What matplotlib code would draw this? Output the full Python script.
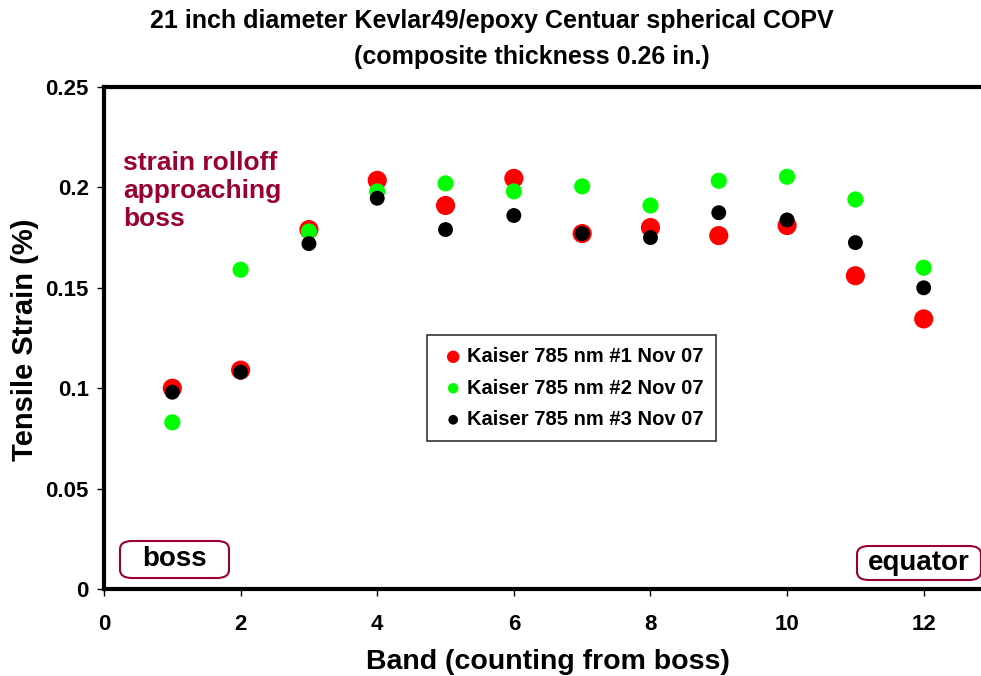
import matplotlib
matplotlib.use("Agg")
import matplotlib.pyplot as plt
from matplotlib.patches import FancyBboxPatch

plt.rcParams['font.family'] = ['Liberation Sans', 'DejaVu Sans']
plt.rcParams['font.weight'] = 'bold'

bands = [1, 2, 3, 4, 5, 6, 7, 8, 9, 10, 11, 12]
series1 = [0.100, 0.109, 0.179, 0.2035, 0.191, 0.2045, 0.177, 0.180, 0.176, 0.181, 0.156, 0.1345]
series2 = [0.083, 0.159, 0.178, 0.198, 0.202, 0.198, 0.2005, 0.191, 0.2033, 0.2053, 0.194, 0.160]
series3 = [0.098, 0.108, 0.172, 0.1946, 0.179, 0.186, 0.177, 0.175, 0.1874, 0.1838, 0.1725, 0.150]
labels = ["Kaiser 785 nm #1 Nov 07", "Kaiser 785 nm #2 Nov 07", "Kaiser 785 nm #3 Nov 07"]
colors = ["#ff0000", "#00ff00", "#000000"]
sizes = [190, 135, 115]
xticks = [0, 2, 4, 6, 8, 10, 12]
yticks = [0, 0.05, 0.1, 0.15, 0.2, 0.25]
ytick_labels = ["0", "0.05", "0.1", "0.15", "0.2", "0.25"]

fig = plt.figure(figsize=(9.81, 6.76), dpi=100)
ax = fig.add_axes([104/981, 1-589/676, (992-104)/981, (589-87)/676])

handles = []
for ys, c, s, lab in zip([series1, series2, series3], colors, sizes, labels):
    h = ax.scatter(bands, ys, s=s, c=c, edgecolors='none', label=lab, zorder=3, clip_on=False)
    handles.append(h)

ax.set_xlim(0, 13)
ax.set_ylim(0, 0.25)
ax.set_xticks(xticks)
ax.set_yticks(yticks)
ax.set_yticklabels(ytick_labels)
ax.tick_params(direction='out', length=5, width=1, labelsize=16)
ax.tick_params(axis='x', pad=13)
ax.tick_params(axis='y', pad=6)
for lab in ax.get_xticklabels() + ax.get_yticklabels():
    lab.set_fontweight('bold')
for sp in ['left', 'bottom', 'top', 'right']:
    ax.spines[sp].set_linewidth(3)

ax.set_xlabel("Band (counting from boss)", fontsize=20.5, fontweight='bold')
ax.xaxis.set_label_coords(0.5, -(662-589)/502)
ax.xaxis.label.set_va('center')
fig.text(25/981, 1-340/676, "Tensile Strain (%)", ha='center', va='center', rotation=90,
         fontsize=21, fontweight='bold')

fig.text(492/981, 1-21/676, "21 inch diameter Kevlar49/epoxy Centuar spherical COPV",
         ha='center', va='center', fontsize=18, fontweight='bold')
fig.text(532/981, 1-57/676, "(composite thickness 0.26 in.)",
         ha='center', va='center', fontsize=18, fontweight='bold')

fig.text(123/981, 1-191/676, "strain rolloff\napproaching\nboss", ha='left', va='center',
         fontsize=19, fontweight='bold', color='#990033', linespacing=1.2)

leg = ax.legend(handles=handles, loc='upper left', bbox_to_anchor=((427-104)/888, (589-335)/502),
                frameon=True, fancybox=False, edgecolor='black', fontsize=14.5,
                handletextpad=0.0, borderpad=0.6, labelspacing=0.62, markerscale=0.65,
                handlelength=1.4, borderaxespad=0)
leg.get_frame().set_linewidth(1.2)
for t in leg.get_texts():
    t.set_fontweight('bold')

for (x0, y0, x1, y1, txt) in [(120, 541, 229, 578, "boss"), (857, 546, 981, 580, "equator")]:
    box = FancyBboxPatch((x0/981, 1-y1/676), (x1-x0)/981, (y1-y0)/676,
                         boxstyle="round,pad=0,rounding_size=0.012",
                         transform=fig.transFigure, facecolor='white', edgecolor='#990033',
                         linewidth=1.5, zorder=5)
    fig.add_artist(box)
    fig.text((x0+x1)/2/981, 1-(y0+y1)/2/676, txt, ha='center', va='center',
             fontsize=20, fontweight='bold', zorder=6)

fig.savefig("out.png", dpi=100)
